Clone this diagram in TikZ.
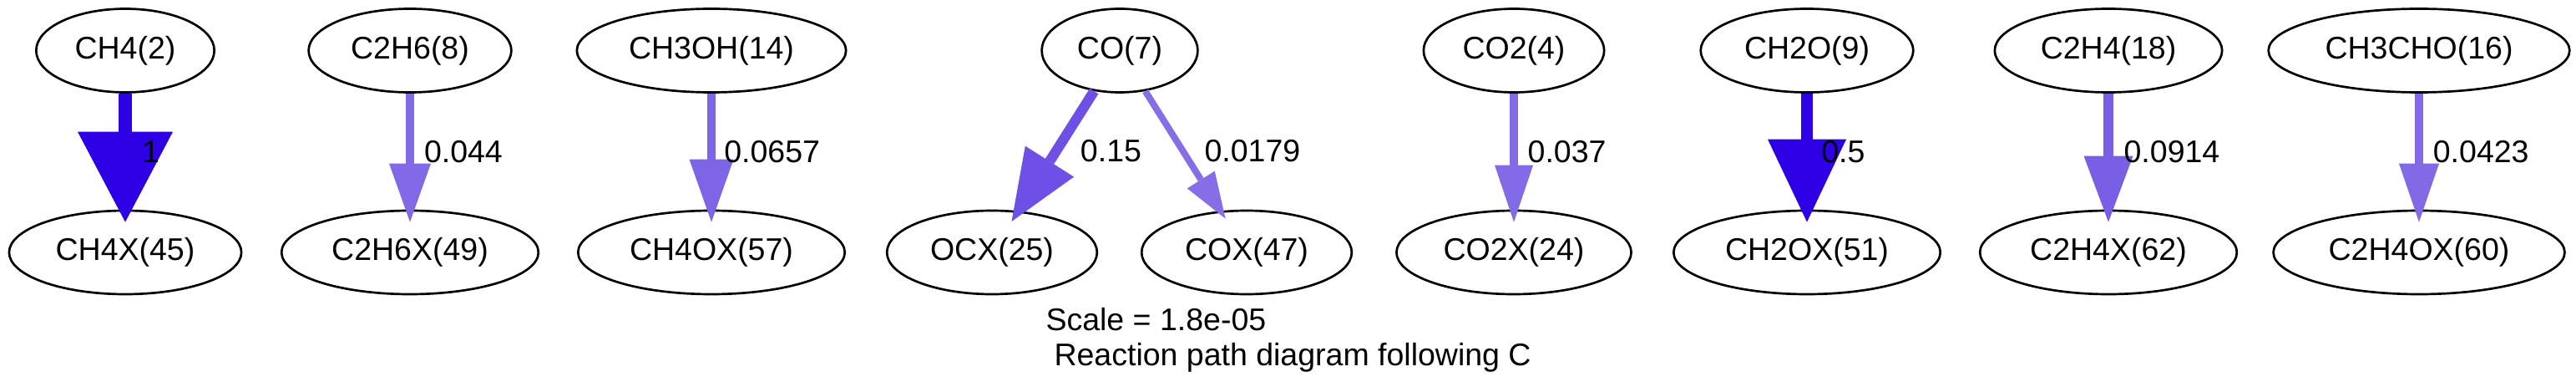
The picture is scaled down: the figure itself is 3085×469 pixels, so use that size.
\documentclass[tikz,border=0pt]{standalone}
\usepackage{fontspec}
\setmainfont{Liberation Sans}
\usepackage{tikz}
\usetikzlibrary{positioning}
\usetikzlibrary{shapes.geometric, arrows.meta}

\newlength{\pxu}
\setlength{\pxu}{0.37333pt}

\definecolor{fluxmax}{RGB}{46,0,230}
\definecolor{fluxethane}{RGB}{130,105,230}
\definecolor{fluxmethanol}{RGB}{126,100,230}
\definecolor{fluxocx}{RGB}{110,80,230}
\definecolor{fluxcox}{RGB}{134,111,230}
\definecolor{fluxcotwo}{RGB}{131,106,230}
\definecolor{fluxethene}{RGB}{121,94,230}
\definecolor{fluxacet}{RGB}{130,105,230}

\begin{document}
\begin{tikzpicture}[x=\pxu, y=-\pxu,
		font=\fontsize{14}{16.8}\selectfont,
		species/.style={ellipse, draw, line width=1pt, minimum height=100\pxu, inner xsep=15\pxu, inner ysep=0pt},
		flux/.style n args={4}{line width=#1\pxu, draw=#2, -{Triangle[length=#3*0.37333pt, width=#4*0.37333pt, line width=0pt]}, shorten >=-15\pxu}]
		\useasboundingbox (0,0) rectangle (3085,469);

		% Gas species (top row)
		\node[species] (ch4) at (150,60.5) {CH4(2)};
		\node[species] (c2h6) at (491,60.5) {C2H6(8)};
		\node[species] (ch3oh) at (852,60.5) {CH3OH(14)};
		\node[species] (co) at (1341,60.5) {CO(7)};
		\node[species] (co2) at (1813,60.5) {CO2(4)};
		\node[species] (ch2o) at (2164,60.5) {CH2O(9)};
		\node[species] (c2h4) at (2525,60.5) {C2H4(18)};
		\node[species] (ch3cho) at (2897,60.5) {CH3CHO(16)};

		% Adsorbed species (bottom row)
		\node[species] (ch4x) at (150,302) {CH4X(45)};
		\node[species] (c2h6x) at (491,302) {C2H6X(49)};
		\node[species] (ch4ox) at (852,302) {CH4OX(57)};
		\node[species] (ocx) at (1188,302) {OCX(25)};
		\node[species] (cox) at (1493,302) {COX(47)};
		\node[species] (co2x) at (1813,302) {CO2X(24)};
		\node[species] (ch2ox) at (2164,302) {CH2OX(51)};
		\node[species] (c2h4x) at (2525,302) {C2H4X(62)};
		\node[species] (c2h4ox) at (2897,302) {C2H4OX(60)};

		% Fluxes
		\draw[flux={16}{fluxmax}{108}{114}] (ch4) -- (ch4x) node[midway, right=12\pxu, inner sep=0pt] {1};
		\draw[flux={10}{fluxethane}{70}{50}] (c2h6) -- (c2h6x) node[midway, right=12\pxu, inner sep=0pt] {0.044};
		\draw[flux={10.6}{fluxmethanol}{75}{53}] (ch3oh) -- (ch4ox) node[midway, right=10\pxu, inner sep=0pt] {0.0657};
		\draw[flux={12.2}{fluxocx}{85}{69}] (co) -- (ocx) node[midway, right=23\pxu, inner sep=0pt] {0.15};
		\draw[flux={7.9}{fluxcox}{55}{39}, shorten >=-11\pxu] (co) -- (cox) node[midway, right=22\pxu, inner sep=0pt] {0.0179};
		\draw[flux={9.4}{fluxcotwo}{68}{46}] (co2) -- (co2x) node[midway, right=12\pxu, inner sep=0pt] {0.037};
		\draw[flux={14.7}{fluxmax}{99}{94}] (ch2o) -- (ch2ox) node[midway, right=10\pxu, inner sep=0pt] {0.5};
		\draw[flux={11.2}{fluxethene}{79}{59}] (c2h4) -- (c2h4x) node[midway, right=13\pxu, inner sep=0pt] {0.0914};
		\draw[flux={9.7}{fluxacet}{70}{48}] (ch3cho) -- (c2h4ox) node[midway, right=12\pxu, inner sep=0pt] {0.0423};

		% Caption
		\node[anchor=base west, inner sep=0pt] (scale) at (1252,395) {Scale = 1.8e-05};
		\node[anchor=base west, inner sep=0pt] (title) at (1262,437) {Reaction path diagram following C};
	\end{tikzpicture}
\end{document}
